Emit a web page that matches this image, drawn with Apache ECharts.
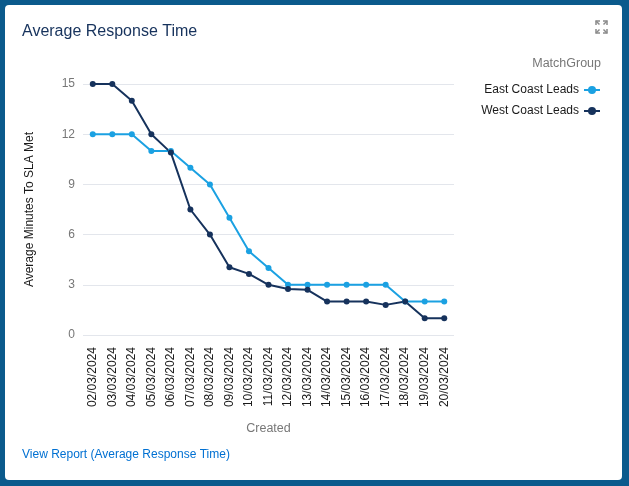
<!DOCTYPE html>
<html>
<head>
<meta charset="utf-8">
<script src="https://cdn.jsdelivr.net/npm/echarts@6/dist/echarts.min.js"></script>
<style>
  html, body { margin: 0; padding: 0; width: 629px; height: 486px; background: #0b5a8c; overflow: hidden; }
  #card { position: absolute; left: 5px; top: 5px; width: 617px; height: 475px; background: #fff; border-radius: 4px; }
  #chart { position: absolute; left: 0; top: 0; width: 629px; height: 486px; }
</style>
</head>
<body>
<div id="card"></div>
<div id="chart"></div>
<script>
const categories = ['02/03/2024','03/03/2024','04/03/2024','05/03/2024','06/03/2024','07/03/2024','08/03/2024','09/03/2024','10/03/2024','11/03/2024','12/03/2024','13/03/2024','14/03/2024','15/03/2024','16/03/2024','17/03/2024','18/03/2024','19/03/2024','20/03/2024'];
const eastCoast = [12, 12, 12, 11, 11, 10, 9, 7, 5, 4, 3, 3, 3, 3, 3, 3, 2, 2, 2];
const westCoast = [15, 15, 14, 12, 10.9, 7.5, 6, 4.05, 3.65, 3, 2.75, 2.7, 2, 2, 2, 1.8, 2, 1, 1];
const seriesNames = ['East Coast Leads', 'West Coast Leads'];

const FONT = 'Liberation Sans, Arial, sans-serif';
const chart = echarts.init(document.getElementById('chart'));
chart.setOption({
  backgroundColor: 'transparent',
  textStyle: { fontFamily: FONT },
  title: {
    text: 'Average Response Time',
    left: 17, top: 19,
    textStyle: { fontSize: 16, fontWeight: 'normal', color: '#16325c', fontFamily: FONT }
  },
  legend: {
    orient: 'vertical',
    right: 23, top: 79,
    align: 'right',
    itemWidth: 16, itemHeight: 10, itemGap: 9,
    textStyle: { fontSize: 12, color: '#1a1a1a', fontFamily: FONT },
    data: seriesNames
  },
  grid: { left: 83, right: 175, top: 84, bottom: 151 },
  xAxis: {
    type: 'category',
    data: categories,
    boundaryGap: true,
    name: 'Created',
    nameLocation: 'middle',
    nameGap: 87,
    nameTextStyle: { color: '#777777', fontSize: 12.5, fontFamily: FONT },
    axisLine: { show: false },
    axisTick: { show: false },
    axisLabel: { rotate: 90, margin: 12, fontSize: 12, color: '#1a1a1a', fontFamily: FONT, interval: 0 }
  },
  yAxis: {
    type: 'value',
    min: 0, max: 15, interval: 3,
    name: 'Average Minutes To SLA Met',
    nameLocation: 'middle',
    nameGap: 47,
    nameTextStyle: { color: '#1a1a1a', fontSize: 12, fontFamily: FONT },
    axisLine: { show: false },
    axisTick: { show: false },
    axisLabel: { margin: 8, fontSize: 12, color: '#777777', fontFamily: FONT },
    splitLine: { lineStyle: { color: '#e3e6ec', width: 1 } }
  },
  series: [
    {
      name: seriesNames[0], type: 'line', data: eastCoast,
      symbol: 'circle', symbolSize: 6,
      itemStyle: { color: '#1ba1e2' },
      lineStyle: { color: '#1ba1e2', width: 2 }
    },
    {
      name: seriesNames[1], type: 'line', data: westCoast,
      symbol: 'circle', symbolSize: 6,
      itemStyle: { color: '#16325c' },
      lineStyle: { color: '#16325c', width: 2 }
    }
  ],
  graphic: [
    { type: 'text', right: 28, top: 57, style: { text: 'MatchGroup', fill: '#777777', font: '12.5px ' + FONT } },
    { type: 'text', left: 22, top: 449, style: { text: 'View Report (Average Response Time)', fill: '#0070d2', font: '12px ' + FONT } },
    { type: 'polyline', shape: { points: [[596,25],[596,21],[600,21]] }, style: { stroke: '#8a8a8a', lineWidth: 1.5, fill: null } },
    { type: 'line', shape: { x1: 596, y1: 21, x2: 599.5, y2: 24.5 }, style: { stroke: '#8a8a8a', lineWidth: 1.5 } },
    { type: 'polyline', shape: { points: [[603,21],[607,21],[607,25]] }, style: { stroke: '#8a8a8a', lineWidth: 1.5, fill: null } },
    { type: 'line', shape: { x1: 607, y1: 21, x2: 603.5, y2: 24.5 }, style: { stroke: '#8a8a8a', lineWidth: 1.5 } },
    { type: 'polyline', shape: { points: [[596,29],[596,33],[600,33]] }, style: { stroke: '#8a8a8a', lineWidth: 1.5, fill: null } },
    { type: 'line', shape: { x1: 596, y1: 33, x2: 599.5, y2: 29.5 }, style: { stroke: '#8a8a8a', lineWidth: 1.5 } },
    { type: 'polyline', shape: { points: [[603,33],[607,33],[607,29]] }, style: { stroke: '#8a8a8a', lineWidth: 1.5, fill: null } },
    { type: 'line', shape: { x1: 607, y1: 33, x2: 603.5, y2: 29.5 }, style: { stroke: '#8a8a8a', lineWidth: 1.5 } }
  ]
});
</script>
</body>
</html>
